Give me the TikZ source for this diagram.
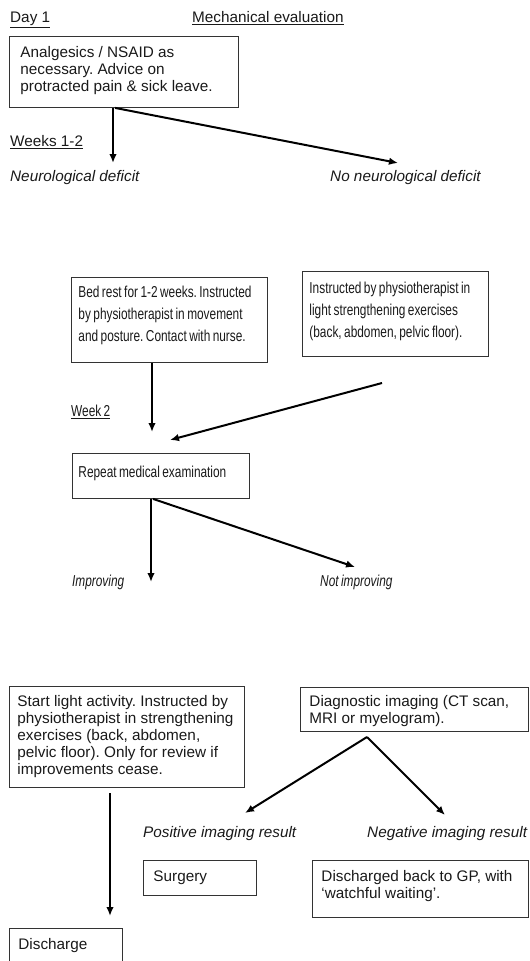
\documentclass[tikz,border=0pt]{standalone}
\usepackage{fontspec}
\setmainfont{Liberation Sans}
\newfontfamily\narrowfont[FakeStretch=0.75, WordSpace=0.75]{Liberation Sans}
\usetikzlibrary{arrows.meta}

\newcommand{\regtext}{\fontsize{15.3}{17}\selectfont\frenchspacing}
\newcommand{\nartext}{\narrowfont\fontsize{15.8}{22}\selectfont\frenchspacing}

\tikzset{
  flowbox/.style={draw=black!80, line width=0.9pt, anchor=north west, align=left, inner ysep=0pt, text=black!90,
    execute at begin node={\spaceskip=0pt\xspaceskip=0pt\relax}},
  lbl/.style={anchor=base west, inner sep=0pt, text=black!90},
  arr/.style={-{Latex[length=9pt,width=7.5pt]}, line width=2pt},
}

\begin{document}
\begin{tikzpicture}[x=1pt, y=-1pt]
    \useasboundingbox (0,0) rectangle (530,961);

    % Day 1
    \node[lbl, font=\regtext] (day) at (10,22.7) {\underline{Day 1}};
    \node[lbl, font=\regtext] (mech) at (192,22.7) {\underline{Mechanical evaluation}};
    \node[flowbox, font=\regtext, inner xsep=11pt, text width=207pt, text height=21pt, text depth=50pt] (analg) at (9,36)
        {Analgesics / NSAID as\\ necessary. Advice on\\ protracted pain \& sick leave.};
    \node[lbl, font=\regtext] (wk12) at (10,146.7) {\underline{Weeks 1-2}};
    \node[lbl, font=\regtext\itshape] (neuro) at (10,181) {Neurological deficit};
    \node[lbl, font=\regtext\itshape] (noneuro) at (330,181) {No neurological deficit};
    \coordinate (t1) at (113,163);
    \coordinate (t2) at (398,163);
    \draw[arr] (analg.south -| t1) -- (t1);
    \draw[arr] ([xshift=2pt]analg.south -| t1) -- (t2);

    % Weeks 1-2
    \node[flowbox, font=\nartext, inner xsep=7pt, text width=182pt, text height=20.3pt, text depth=64.7pt] (bedrest) at (71,277)
        {Bed rest for 1-2 weeks. Instructed\\ by physiotherapist in movement\\ and posture. Contact with nurse.};
    \node[flowbox, font=\nartext, inner xsep=7pt, text width=172pt, text height=21.7pt, text depth=63.3pt] (light) at (302,271)
        {Instructed by physiotherapist in\\ light strengthening exercises\\ (back, abdomen, pelvic floor).};
    \node[lbl, font=\nartext] (wk2) at (71,416.7) {\underline{Week 2}};
    \coordinate (t3) at (152,432);
    \coordinate (s4) at (382,383);
    \coordinate (t4) at (170,440);
    \draw[arr] (bedrest.south -| t3) -- (t3);
    \draw[arr] (s4) -- (t4);

    % Week 2
    \node[flowbox, font=\nartext, inner xsep=6pt, text width=165pt, text height=24pt, text depth=21pt] (exam) at (72,453)
        {Repeat medical examination};
    \node[lbl, font=\nartext\itshape] (impr) at (72,586) {Improving};
    \node[lbl, font=\nartext\itshape] (notimpr) at (320,586) {Not improving};
    \coordinate (t5) at (151,582);
    \coordinate (t6) at (355,567);
    \draw[arr] (exam.south -| t5) -- (t5);
    \draw[arr] ([xshift=2pt]exam.south -| t5) -- (t6);

    % Outcome
    \node[flowbox, font=\regtext, inner xsep=8pt, text width=219pt, text height=20pt, text depth=81pt] (start) at (9,686)
        {Start light activity. Instructed by\\ physiotherapist in strengthening\\ exercises (back, abdomen,\\ pelvic floor). Only for review if\\ improvements cease.};
    \node[flowbox, font=\regtext, inner xsep=9pt, text width=210pt, text height=19pt, text depth=25pt] (diag) at (300,687)
        {Diagnostic imaging (CT scan,\\ MRI or myelogram).};
    \node[lbl, font=\regtext\itshape] (pos) at (143,837.3) {Positive imaging result};
    \node[lbl, font=\regtext\itshape] (neg) at (367,837.3) {Negative imaging result};
    \node[flowbox, font=\regtext, inner xsep=10pt, text width=93pt, text height=21pt, text depth=14pt] (surg) at (143,860)
        {Surgery};
    \node[flowbox, font=\regtext, inner xsep=9pt, text width=198pt, text height=21pt, text depth=36pt] (gp) at (312,860)
        {Discharged back to GP, with\\ `watchful waiting'.};
    \node[flowbox, font=\regtext, inner xsep=9pt, text width=95pt, text height=21pt, text depth=40pt] (disch) at (9,928)
        {Discharge};
    \coordinate (s7) at (367,737);
    \coordinate (t7) at (245,813);
    \coordinate (t8) at (445,815);
    \coordinate (s9) at (110,793);
    \coordinate (t9) at (110,916);
    \draw[arr] (s7) -- (t7);
    \draw[arr] (s7) -- (t8);
    \draw[arr] (s9) -- (t9);
\end{tikzpicture}
\end{document}
